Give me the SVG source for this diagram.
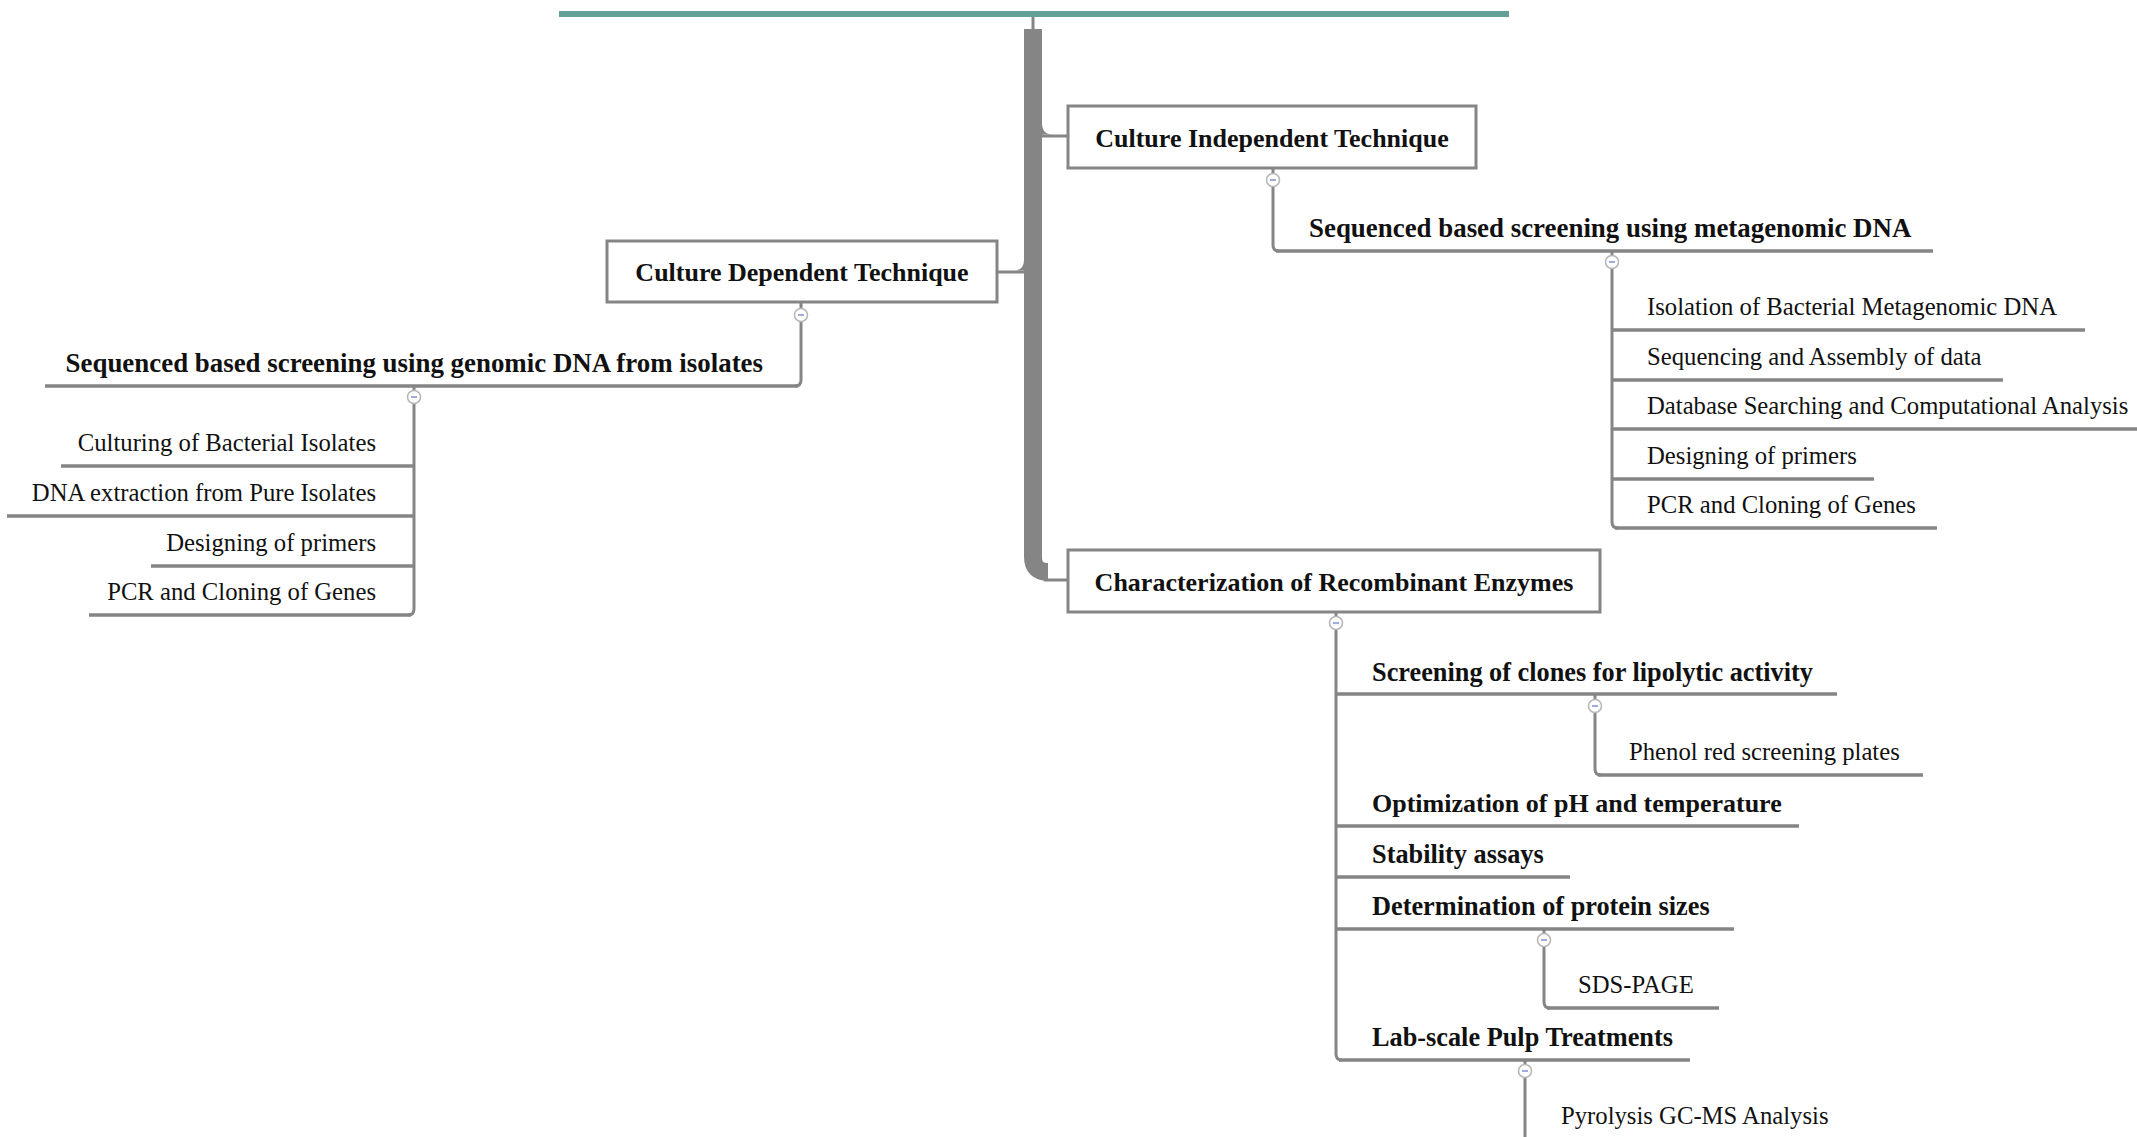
<svg xmlns="http://www.w3.org/2000/svg" xmlns:xlink="http://www.w3.org/1999/xlink" width="2137" height="1137" viewBox="0 0 2137 1137">
<style>
.bg{fill:#ffffff}
.box{fill:#ffffff;stroke:#858585;stroke-width:3}
.ln{fill:none;stroke:#858585;stroke-width:3;stroke-linecap:butt}
.ul{fill:none;stroke:#858585;stroke-width:3.5}
.fill{fill:#858585;stroke:none}
.tb{font-family:"Liberation Serif","Times New Roman",serif;font-weight:bold;font-size:26px;fill:#111111}
.tb2{font-size:26.9px}
.tb3{font-size:26.3px}
.tr{font-family:"Liberation Serif","Times New Roman",serif;font-size:24.7px;fill:#111111}
.mid{text-anchor:middle}
.end{text-anchor:end}
</style>
<defs>
<g id="tog">
<circle cx="0" cy="0" r="6.5" fill="#ffffff" stroke="#b8b8b8" stroke-width="1.6"/>
<line x1="-3" y1="0" x2="3" y2="0" stroke="#8090d0" stroke-width="1.5"/>
</g>
</defs>
<rect class="bg" x="0" y="0" width="2137" height="1137"/>

<g id="connectors">
<line class="ln" x1="1033" y1="17" x2="1033" y2="30"/>
<path d="M1033 29 V557 Q1033 572 1048 572" fill="none" stroke="#858585" stroke-width="18"/>
<line class="ln" x1="1044" y1="580" x2="1068" y2="580" stroke-width="4"/>
<line class="ln" x1="1040" y1="136" x2="1068" y2="136" stroke-width="4"/>
<path class="fill" d="M1042 123 Q1042 134.5 1053 134.5 L1042 134.5 Z"/>
<line class="ln" x1="1026" y1="272" x2="997" y2="272" stroke-width="4"/>
<path class="fill" d="M1024 260 Q1024 270.5 1014 270.5 L1024 270.5 Z"/>
<path class="ln" d="M1273 168 V245 Q1273 251 1279 251"/>
<path class="ln" d="M1612 251 V522 Q1612 528 1618 528"/>
<path class="ln" d="M801 302 V380 Q801 386 795 386"/>
<path class="ln" d="M414 386 V609 Q414 615 408 615"/>
<path class="ln" d="M1336 612 V1054 Q1336 1060 1342 1060"/>
<path class="ln" d="M1595 694 V769 Q1595 775 1601 775"/>
<path class="ln" d="M1544 929 V1002 Q1544 1008 1550 1008"/>
<path class="ln" d="M1525 1060 V1137"/>
</g>

<g id="root">
<line x1="559" y1="14" x2="1509" y2="14" stroke="#63a198" stroke-width="6"/>
</g>

<g id="n-culture-independent">
<rect class="box" x="1068" y="106" width="408" height="62"/>
<text class="tb mid" x="1272" y="147">Culture Independent Technique</text>
</g>
<g id="n-culture-dependent">
<rect class="box" x="607" y="241" width="390" height="61"/>
<text class="tb mid" x="802" y="281">Culture Dependent Technique</text>
</g>
<g id="n-characterization">
<rect class="box" x="1068" y="550" width="532" height="62"/>
<text class="tb mid" x="1334" y="591">Characterization of Recombinant Enzymes</text>
</g>

<g id="n-metagenomic">
<line class="ul" x1="1276" y1="251" x2="1933" y2="251"/>
<text class="tb tb2" x="1309" y="237">Sequenced based screening using metagenomic DNA</text>
</g>
<g id="n-meta-isolation">
<line class="ul" x1="1612" y1="330" x2="2085" y2="330"/>
<text class="tr" x="1647" y="315">Isolation of Bacterial Metagenomic DNA</text>
</g>
<g id="n-meta-sequencing">
<line class="ul" x1="1612" y1="380" x2="2003" y2="380"/>
<text class="tr" x="1647" y="365">Sequencing and Assembly of data</text>
</g>
<g id="n-meta-database">
<line class="ul" x1="1612" y1="429" x2="2137" y2="429"/>
<text class="tr" x="1647" y="414">Database Searching and Computational Analysis</text>
</g>
<g id="n-meta-primers">
<line class="ul" x1="1612" y1="479" x2="1874" y2="479"/>
<text class="tr" x="1647" y="464">Designing of primers</text>
</g>
<g id="n-meta-pcr">
<line class="ul" x1="1615" y1="528" x2="1937" y2="528"/>
<text class="tr" x="1647" y="513">PCR and Cloning of Genes</text>
</g>

<g id="n-genomic">
<line class="ul" x1="45" y1="386" x2="798" y2="386"/>
<text class="tb tb2 end" x="763" y="372">Sequenced based screening using genomic DNA from isolates</text>
</g>
<g id="n-gen-culturing">
<line class="ul" x1="61" y1="466" x2="414" y2="466"/>
<text class="tr end" x="376" y="451">Culturing of Bacterial Isolates</text>
</g>
<g id="n-gen-dna">
<line class="ul" x1="7" y1="516" x2="414" y2="516"/>
<text class="tr end" x="376" y="501">DNA extraction from Pure Isolates</text>
</g>
<g id="n-gen-primers">
<line class="ul" x1="151" y1="566" x2="414" y2="566"/>
<text class="tr end" x="376" y="551">Designing of primers</text>
</g>
<g id="n-gen-pcr">
<line class="ul" x1="89" y1="615" x2="411" y2="615"/>
<text class="tr end" x="376" y="600">PCR and Cloning of Genes</text>
</g>

<g id="n-screening">
<line class="ul" x1="1336" y1="694" x2="1837" y2="694"/>
<text class="tb tb3" x="1372" y="681">Screening of clones for lipolytic activity</text>
</g>
<g id="n-phenol">
<line class="ul" x1="1598" y1="775" x2="1923" y2="775"/>
<text class="tr" x="1629" y="760">Phenol red screening plates</text>
</g>
<g id="n-optimization">
<line class="ul" x1="1336" y1="826" x2="1799" y2="826"/>
<text class="tb" x="1372" y="812">Optimization of pH and temperature</text>
</g>
<g id="n-stability">
<line class="ul" x1="1336" y1="877" x2="1570" y2="877"/>
<text class="tb tb3" x="1372" y="863">Stability assays</text>
</g>
<g id="n-determination">
<line class="ul" x1="1336" y1="929" x2="1734" y2="929"/>
<text class="tb tb3" x="1372" y="915">Determination of protein sizes</text>
</g>
<g id="n-sds">
<line class="ul" x1="1547" y1="1008" x2="1719" y2="1008"/>
<text class="tr" x="1578" y="993">SDS-PAGE</text>
</g>
<g id="n-labscale">
<line class="ul" x1="1339" y1="1060" x2="1690" y2="1060"/>
<text class="tb tb3" x="1372" y="1046">Lab-scale Pulp Treatments</text>
</g>
<g id="n-pyrolysis">
<text class="tr" x="1561" y="1124">Pyrolysis GC-MS Analysis</text>
</g>

<g id="toggles">
<use xlink:href="#tog" x="1273" y="180"/>
<use xlink:href="#tog" x="801" y="315"/>
<use xlink:href="#tog" x="1612" y="262"/>
<use xlink:href="#tog" x="414" y="397"/>
<use xlink:href="#tog" x="1336" y="623"/>
<use xlink:href="#tog" x="1595" y="706"/>
<use xlink:href="#tog" x="1544" y="940"/>
<use xlink:href="#tog" x="1525" y="1071"/>
</g>
</svg>
